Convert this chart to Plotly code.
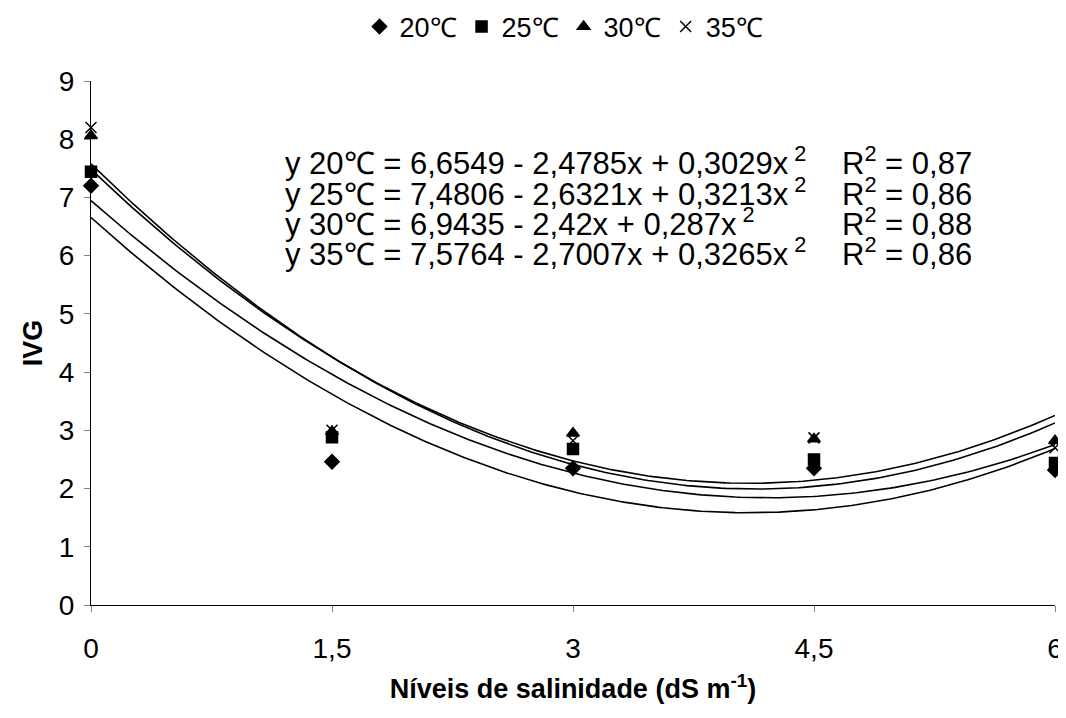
import numpy as np
import plotly.graph_objects as go

# Data
salinity = [0, 1.5, 3, 4.5, 6]
ivg_20 = [7.20, 2.46, 2.35, 2.35, 2.32]
ivg_25 = [7.44, 2.88, 2.68, 2.50, 2.44]
ivg_30 = [8.06, 2.98, 2.95, 2.85, 2.82]
ivg_35 = [8.20, 3.00, 2.82, 2.87, 2.70]

series_names = ["20℃", "25℃", "30℃", "35℃"]
# Quadratic trend coefficients shown on the chart (a, b, c): y = a + b x + c x^2
coef_20 = [6.6549, -2.4785, 0.3029]
coef_25 = [7.4806, -2.6321, 0.3213]
coef_30 = [6.9435, -2.42, 0.287]
coef_35 = [7.5764, -2.7007, 0.3265]
r2_values = ["0,87", "0,86", "0,88", "0,86"]
eq_texts = [
    "y 20℃ = 6,6549 - 2,4785x + 0,3029x<sup> 2</sup>",
    "y 25℃ = 7,4806 - 2,6321x + 0,3213x<sup> 2</sup>",
    "y 30℃ = 6,9435 - 2,42x + 0,287x<sup> 2</sup>",
    "y 35℃ = 7,5764 - 2,7007x + 0,3265x<sup> 2</sup>",
]
x_ticks = [0, 1.5, 3, 4.5, 6]
x_ticktext = ["0", "1,5", "3", "4,5", "6"]
y_ticks = list(range(0, 10))

FONT = "Liberation Sans, Arial, sans-serif"

# screen geometry (page has an 8px body margin)
OFF = 8
W, H = 1066, 718 - 2 * OFF
PL, PR, PT, PB = 91, 1055, 81, 605   # plot box in screen px
L, T = PL - OFF, PT - OFF
R = W - L - (PR - PL)
B = H - T - (PB - PT)
pw, ph = PR - PL, PB - PT

def px(sx):
    return (sx - PL) / pw

def py(sy):
    return (PB - sy) / ph

fig = go.Figure()

xs = np.linspace(0, 6, 200)
for coef in [coef_20, coef_25, coef_30, coef_35]:
    a, b, c = coef
    fig.add_trace(go.Scatter(
        x=xs, y=a + b * xs + c * xs ** 2, mode="lines",
        line=dict(color="black", width=1.6), showlegend=False, hoverinfo="skip"))

symbols = ["diamond", "square", "triangle-up", "x-thin"]
for name, vals, sym in zip(series_names, [ivg_20, ivg_25, ivg_30, ivg_35], symbols):
    fig.add_trace(go.Scatter(
        x=salinity, y=vals, mode="markers", name=name,
        marker=dict(symbol=sym, size=11, color="black",
                    line=dict(color="black", width=1.5)),
        cliponaxis=False))

EQ_SIZE = 31
for i, (eq, r2) in enumerate(zip(eq_texts, r2_values)):
    yy = 161 + i * 30.5
    fig.add_annotation(x=px(283), y=py(yy), xref="paper", yref="paper", text=eq,
                       showarrow=False, xanchor="left", yanchor="middle",
                       font=dict(family=FONT, size=EQ_SIZE, color="black"))
    fig.add_annotation(x=px(840), y=py(yy), xref="paper", yref="paper",
                       text="R<sup>2</sup> = " + r2,
                       showarrow=False, xanchor="left", yanchor="middle",
                       font=dict(family=FONT, size=EQ_SIZE, color="black"))

fig.update_layout(
    width=W, height=H,
    margin=dict(l=L, r=R, t=T, b=B, autoexpand=False),
    paper_bgcolor="white", plot_bgcolor="white",
    font=dict(family=FONT, size=28, color="black"),
    separators=", ",
    legend=dict(orientation="h", xref="paper", x=px(564), xanchor="center",
                yref="container", y=1 - (27 - OFF) / H, yanchor="middle",
                font=dict(size=27), itemwidth=30,
                traceorder="normal", bgcolor="rgba(0,0,0,0)"),
    xaxis=dict(range=[0, 6], tickvals=x_ticks, ticktext=x_ticktext,
               showgrid=False, zeroline=False, showline=True, linecolor="black",
               linewidth=1.3, ticks="outside", ticklen=6, tickcolor="#808080",
               tickfont=dict(size=28), ticklabelstandoff=12,
               title=dict(text="<b>Níveis de salinidade (dS m<sup>-1</sup>)</b>",
                          font=dict(size=27), standoff=16)),
    yaxis=dict(range=[0, 9], tickvals=y_ticks, showgrid=False, zeroline=False,
               showline=True, linecolor="black", linewidth=1.3, ticks="outside",
               ticklen=6, tickcolor="#808080", tickfont=dict(size=28),
               ticklabelstandoff=4,
               title=dict(text="<b>IVG</b>", font=dict(size=27), standoff=8)),
)

fig.write_html("out.html")
